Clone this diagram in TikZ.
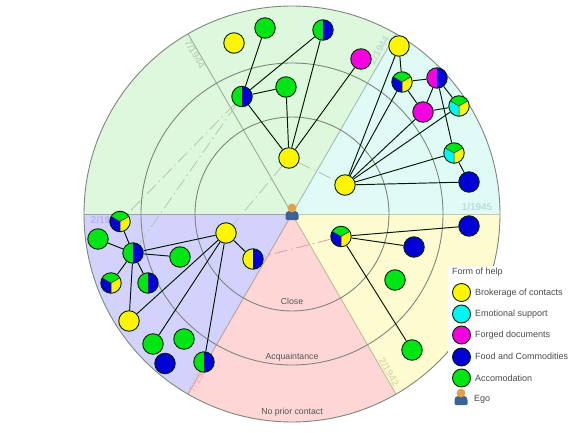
\documentclass[tikz,border=0pt]{standalone}
\usepackage{fontspec}
\setmainfont{Liberation Sans}
\definecolor{nyel}{RGB}{255,245,0}
\definecolor{ngrn}{RGB}{0,230,20}
\definecolor{nblu}{RGB}{0,0,215}
\definecolor{nmag}{RGB}{245,0,225}
\definecolor{ncya}{RGB}{0,245,245}
\definecolor{secG}{RGB}{221,248,221}
\definecolor{secC}{RGB}{224,250,246}
\definecolor{secY}{RGB}{253,251,207}
\definecolor{secP}{RGB}{255,214,214}
\definecolor{secL}{RGB}{210,210,252}
\definecolor{ringc}{RGB}{125,135,125}
\definecolor{txtc}{RGB}{85,85,85}
\definecolor{egob}{RGB}{58,100,150}
\definecolor{egoh}{RGB}{228,160,70}
\definecolor{dateG}{RGB}{190,212,190}
\definecolor{dateC}{RGB}{190,220,215}
\definecolor{dateY}{RGB}{222,222,170}
\definecolor{dateP}{RGB}{240,185,195}
\definecolor{dateL}{RGB}{180,180,235}
\pgfdeclarelayer{bgl}
\pgfdeclarelayer{edgel}
\pgfsetlayers{bgl,edgel,main}
\tikzset{
 nd/.style={circle,draw=black!85!green,line width=0.9pt,minimum size=20.5pt,inner sep=0pt,fill=#1},
 lg/.style={circle,draw=black!85!green,line width=0.9pt,minimum size=18pt,inner sep=0pt,fill=#1},
 halfR/.style 2 args={nd=#1,path picture={\fill[#2] (path picture bounding box.north) rectangle (path picture bounding box.south east);}},
 tri/.style={nd=nyel,path picture={
   \coordinate (pc) at (path picture bounding box.center);
   \fill[ngrn] (pc) -- ++(150:12pt) -- ++(90:14pt) -- ++(0:21pt) -- ++(-90:14pt) -- cycle;
   \fill[#1] (pc) -- ++(150:12pt) -- ++(-90:20pt) -- ++(0:10.4pt) -- cycle;
   \draw[black!80,line width=0.5pt] (pc) -- ++(150:12pt) (pc) -- ++(30:12pt) (pc) -- ++(-90:12pt);}},
 link/.style={line width=0.95pt,draw=black!90!green},
 faint/.style={line width=0.8pt,draw=#1,dash pattern=on 13pt off 4pt on 1.5pt off 4pt},
 ringl/.style={draw=ringc,line width=0.9pt},
 lbl/.style={font=\fontsize{8.7}{10}\selectfont,text=txtc,inner sep=0pt},
 date/.style={font=\bfseries\fontsize{10}{11}\selectfont,text=#1,inner sep=0pt},
 legt/.style={font=\fontsize{9}{10}\selectfont,text=black!70,inner sep=0pt,anchor=west},
 egoman/.pic={
   \fill[egob] (-6.5pt,-1pt) to[out=90,in=180] (-3pt,3pt) -- (3pt,3pt) to[out=0,in=90] (6.5pt,-1pt) -- (6.5pt,-5pt) to[out=-90,in=0] (5pt,-6pt) -- (-5pt,-6pt) to[out=180,in=-90] (-6.5pt,-5pt) -- cycle;
   \fill[egoh] (0,6pt) circle (4.4pt);
 }
}
\begin{document}
\begin{tikzpicture}[x=1pt,y=-1pt]
\useasboundingbox (0,0) rectangle (576,433);
\coordinate (c) at (292,214);
\begin{pgfonlayer}{bgl}
\fill[white] (0,0) rectangle (576,433);
\fill[secG] (c) -- ++(180:208pt) arc[start angle=180,end angle=60,radius=208pt] -- cycle;
\fill[secC] (c) -- ++(60:208pt) arc[start angle=60,end angle=0,radius=208pt] -- cycle;
\fill[secY] (c) -- ++(0:208pt) arc[start angle=0,end angle=-60,radius=208pt] -- cycle;
\fill[secP] (c) -- ++(-60:208pt) arc[start angle=-60,end angle=-120,radius=208pt] -- cycle;
\fill[secL] (c) -- ++(-120:208pt) arc[start angle=-120,end angle=-180,radius=208pt] -- cycle;
\draw[draw=black!30!secG,line width=0.9pt] (c) -- ++(120:208pt);
\draw[draw=black!25!secC,line width=0.9pt] (c) -- ++(60:208pt);
\draw[draw=black!20!secY,line width=0.9pt] (c) -- ++(0:208pt);
\draw[draw=black!25!secY,line width=0.9pt] (c) -- ++(-60:208pt);
\draw[draw=black!25!secP,line width=0.9pt] (c) -- ++(-120:208pt);
\draw[draw=black!25!secL,line width=0.9pt] (c) -- ++(180:208pt);
\draw[ringl] (c) circle (97pt) (c) circle (151pt) (c) circle (208pt);
\node[date=dateG,rotate=-60] (d1) at (195,54) {7/1944};
\node[date=dateC,rotate=60] (d2) at (379,50) {2/1944};
\node[date=dateC] (d3) at (477,207) {1/1945};
\node[date=dateY,rotate=-60] (d4) at (389,372) {2/1942};
\node[date=dateP,rotate=60] (d5) at (199,378) {7/1942};
\node[date=dateL] (d6) at (106,220) {2/1943};
\node[lbl] (l1) at (292,301) {Close};
\node[lbl] (l2) at (292,357) {Acquaintance};
\node[lbl] (l3) at (292,412) {No prior contact};
\fill[white] (448,266) rectangle (576,433);
\end{pgfonlayer}

% green sector
\node[nd=nyel] (y1) at (234,43) {};
\node[nd=ngrn] (g1) at (265,28) {};
\node[halfR={ngrn}{nblu}] (gb1) at (323,30) {};
\node[nd=nmag] (m1) at (361,59) {};
\node[halfR={ngrn}{nblu}] (gb2) at (242,96.5) {};
\node[nd=ngrn] (g2) at (286,87) {};
\node[nd=nyel] (y2) at (289,158) {};
% cyan sector
\node[nd=nyel] (y3) at (399,46) {};
\node[tri=nblu] (t1) at (402,82) {};
\node[halfR={nmag}{nblu}] (mb) at (437,78) {};
\node[nd=nmag] (m2) at (423,112) {};
\node[tri=ncya] (t2) at (459,106) {};
\node[tri=ncya] (t3) at (454,153) {};
\node[nd=nblu] (b1) at (469,182) {};
\node[nd=nyel] (y4) at (345,185) {};
% lavender sector
\node[tri=nblu] (t4) at (120,221.5) {};
\node[nd=ngrn] (g3) at (98,239) {};
\node[halfR={ngrn}{nblu}] (gb3) at (133,253) {};
\node[nd=ngrn] (g4) at (180,257) {};
\node[tri=nblu] (t5) at (111,283) {};
\node[halfR={ngrn}{nblu}] (gb4) at (148,283) {};
\node[nd=nyel] (y5) at (226,233) {};
\node[halfR={nyel}{nblu}] (yb) at (253,259) {};
\node[nd=nyel] (y6) at (129,321) {};
\node[nd=ngrn] (g5) at (153,344) {};
\node[nd=ngrn] (g6) at (184,339) {};
\node[nd=nblu] (b2) at (165,363.5) {};
\node[halfR={ngrn}{nblu}] (gb5) at (204,362) {};
% yellow sector
\node[tri=nblu] (t6) at (341,236.5) {};
\node[nd=nblu] (b3) at (469,226) {};
\node[nd=nblu] (b4) at (414,247) {};
\node[nd=ngrn] (g7) at (395,280) {};
\node[nd=ngrn] (g8) at (412,350) {};

\begin{pgfonlayer}{edgel}
\draw[faint=black!20!secG] (gb2) -- (t4);
\draw[faint=black!20!secG] (gb2) -- (gb3);
\draw[faint=black!20!secG] (y2) -- (y5);
\draw[faint=black!20!secG] (y2) -- (y4);
\draw[faint=black!22!secP] (t6) -- (yb);
\foreach \a/\b in {gb2/g1,gb2/gb1,gb2/g2,gb2/y2,g2/y2,y2/gb1,y2/m1,
  y3/t1,y3/y4,t1/y4,t1/mb,t1/m2,mb/m2,mb/t2,m2/t2,mb/t3,m2/y4,t2/y4,t3/y4,t3/b1,b1/y4,
  t4/gb3,g3/gb3,gb3/g4,gb3/t5,gb3/gb4,gb3/y6,gb3/y5,y5/yb,y5/y6,y5/g5,y5/gb5,
  t6/b3,t6/b4,t6/g8}
  \draw[link] (\a) -- (\b);
\end{pgfonlayer}

\pic (ego) at (292,214) {egoman};
% legend
\node[legt] (ft) at (452,272) {Form of help};
\node[lg=nyel] (k1) at (461.5,292.5) {};
\node[lg=ncya] (k2) at (461.5,314) {};
\node[lg=nmag] (k3) at (461.5,335) {};
\node[lg=nblu] (k4) at (461.5,357) {};
\node[lg=ngrn] (k5) at (461.5,378) {};
\pic (kego) at (461,399) {egoman};
\node[legt] (t1k) at (475,293) {Brokerage of contacts};
\node[legt] (t2k) at (475,314.5) {Emotional support};
\node[legt] (t3k) at (475,335.5) {Forged documents};
\node[legt] (t4k) at (475,356.5) {Food and Commodities};
\node[legt] (t5k) at (475,378) {Accomodation};
\node[legt] (t6k) at (474,399) {Ego};
\end{tikzpicture}
\end{document}
